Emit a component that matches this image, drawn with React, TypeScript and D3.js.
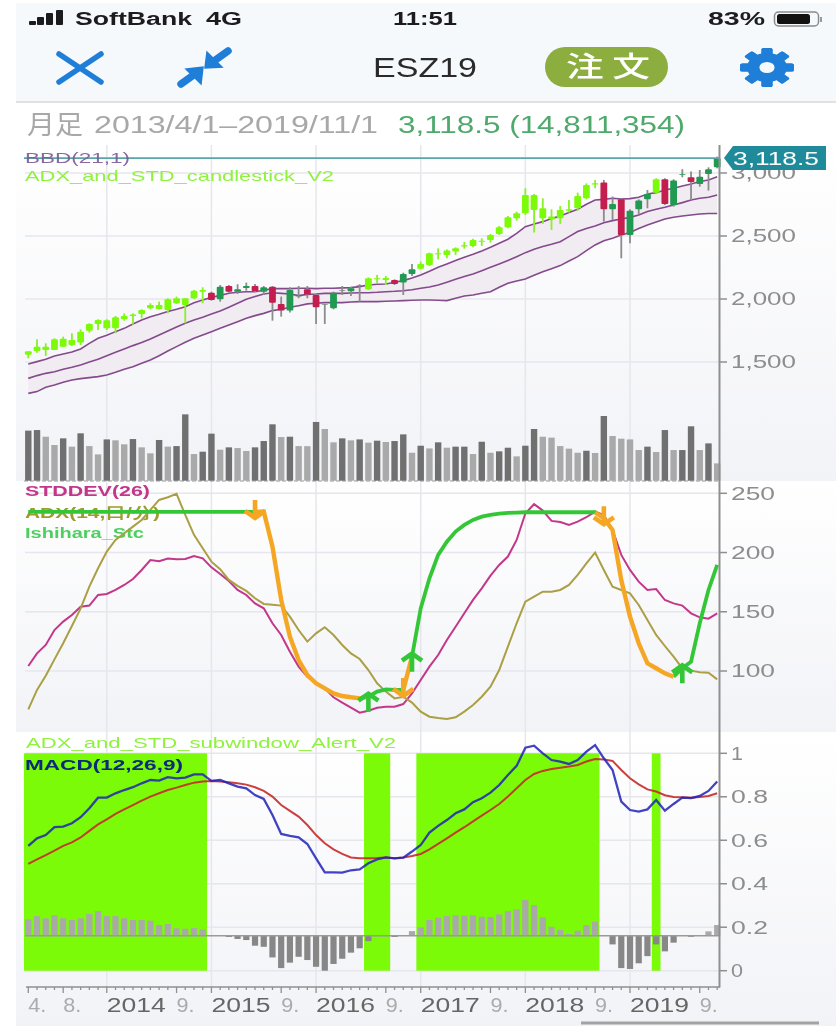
import * as React from "react";
import * as d3 from "d3";

const bodyTop = [1585,1622,1622,1680,1685,1675,1741,1802,1834,1831,1855,1865,1876,1913,1953,1953,1998,2006,2006,2066,2072,2050,2098,2103,2077,2103,2103,2093,2098,1961,2072,2024,2077,2032,1958,2050,2072,2085,2111,2164,2164,2167,2151,2199,2236,2278,2363,2363,2384,2402,2426,2469,2463,2508,2569,2648,2680,2826,2826,2720,2654,2707,2712,2818,2905,2918,2924,2754,2791,2701,2781,2834,2950,2950,2940,2992,2966,2971,3030,3117];
const bodyBottom = [1558,1587,1595,1595,1622,1635,1654,1749,1802,1767,1767,1839,1865,1881,1926,1921,1913,1966,1953,2006,2058,1992,1998,2058,2058,2088,2064,2058,1971,1908,1908,2019,2035,1934,1953,1926,2066,2061,2106,2077,2156,2151,2119,2130,2199,2241,2270,2355,2350,2376,2416,2421,2455,2469,2516,2569,2641,2680,2707,2641,2633,2641,2701,2720,2799,2908,2712,2712,2508,2508,2712,2791,2844,2754,2746,2987,2929,2913,2992,3045];
const highs = [1585,1680,1648,1688,1701,1728,1759,1807,1839,1839,1865,1886,1886,1918,1966,1979,2006,2019,2006,2072,2093,2058,2111,2111,2117,2130,2119,2103,2103,2019,2093,2103,2103,2040,1961,2058,2103,2098,2117,2172,2191,2183,2156,2209,2278,2297,2368,2402,2394,2410,2453,2479,2482,2516,2580,2659,2693,2879,2834,2799,2712,2738,2786,2844,2918,2945,2945,2813,2799,2712,2791,2865,2958,2958,2950,3030,3011,3024,3045,3130];
const lows = [1529,1574,1548,1595,1622,1627,1635,1733,1754,1754,1728,1828,1796,1847,1918,1918,1886,1961,1807,2000,1966,1987,1979,2050,2040,2066,2056,2032,1828,1860,1892,2006,2006,1802,1802,1918,2032,2024,1979,2072,2125,2111,2111,2032,2183,2236,2262,2315,2323,2350,2400,2410,2421,2447,2508,2561,2622,2667,2527,2596,2548,2596,2686,2701,2791,2879,2614,2627,2323,2442,2675,2720,2839,2746,2733,2966,2786,2892,2860,3037];
const crimsonMonths = [21,23,26,28,29,32,33,42,66,68,73,76];
const dojiMonths = [31,34,36,38];

const bandUpper = [1484,1503,1521,1548,1564,1580,1603,1648,1688,1712,1741,1767,1802,1834,1860,1879,1900,1918,1939,1971,1992,2013,2029,2045,2053,2058,2058,2069,2082,2082,2082,2085,2085,2082,2085,2085,2088,2090,2098,2111,2117,2119,2133,2146,2167,2191,2220,2252,2278,2305,2331,2355,2381,2410,2442,2474,2521,2574,2596,2614,2638,2659,2686,2712,2752,2786,2791,2799,2794,2797,2807,2834,2844,2865,2879,2897,2913,2932,2945,2971];
const bandMiddle = [1370,1392,1410,1423,1442,1458,1476,1500,1521,1550,1577,1603,1630,1654,1683,1715,1746,1778,1807,1834,1855,1881,1905,1934,1966,1998,2019,2040,2050,2045,2040,2027,2037,2040,2045,2045,2045,2048,2050,2050,2053,2058,2061,2066,2074,2085,2095,2111,2133,2156,2178,2199,2225,2252,2278,2305,2336,2368,2394,2416,2434,2455,2495,2535,2559,2580,2606,2622,2635,2648,2667,2694,2712,2728,2746,2765,2786,2799,2807,2826];
const bandLower = [1251,1265,1299,1318,1339,1357,1368,1376,1384,1397,1418,1442,1463,1490,1516,1550,1587,1622,1656,1688,1715,1741,1767,1794,1820,1847,1868,1886,1908,1918,1934,1947,1961,1966,1971,1971,1971,1976,1979,1979,1979,1982,1984,1987,1990,1992,1992,1990,1987,2006,2024,2032,2045,2058,2093,2125,2143,2159,2188,2217,2241,2265,2302,2336,2384,2429,2463,2482,2508,2527,2559,2588,2611,2635,2649,2659,2667,2675,2678,2678];

// volume in millions, last bar is the 14,811,354 of the title
const volumes = [42.8,43.3,37.6,30.5,36.2,29.1,40.5,29.6,22.5,35.3,34.5,31.1,35.6,28.5,23.4,34.8,29.1,29.6,56.7,22.8,24.8,40.2,26.5,28.5,27.9,25.4,28.5,33.9,48.2,37.3,37.6,29.6,29.5,50.2,44.2,32.8,36.2,34.5,35.3,32.5,34.2,33.1,33.9,39.6,23.9,29.9,27.6,32.8,28.2,29.1,29.1,22.8,33.3,23.9,25.1,28.2,20.8,29.9,44.2,37.6,36.8,29.6,27.4,23.9,25.6,23.7,55.3,38.2,35.9,35.3,26.2,29.1,24.5,43.3,26.2,26.2,46.5,26.2,31.9,14.8];

const stddev = [104.2,114.9,122,134.6,141.7,147.3,154.3,155.2,164.2,165,168.4,172.6,177.7,185.3,193.7,192.6,194.9,194.3,194.6,197.1,195.1,187.5,181.9,176,168.4,164.2,157.1,152.9,140.3,130.4,116.3,103.7,95.2,89.6,85.4,77.8,73.3,69,64.8,66.5,69,69.9,69.9,72.1,81.1,92.4,103.7,113.5,126.2,137.4,148.7,160,169.8,180.5,189.5,196.6,210.6,233,240.8,235.4,226.7,225.8,223.3,226.1,229.8,234.6,231.7,219,198,185.3,175.4,168.4,169.2,159.9,157.1,155.2,148.7,145.3,144.2,148.7];
const adx = [67.6,84,96,109.8,123.4,138,152.9,171.2,186.7,200.8,210.6,216.3,221.9,227.5,236,244.4,246.7,249.5,231.7,214.9,203.6,192.3,185.9,176.9,171.8,167.6,161.4,156.6,156,155.2,145.9,134.6,124.8,131.8,136.9,130.4,122,114.9,110.1,100.8,89.6,82.6,76.9,78.3,73.3,65.7,61.4,60.3,59.5,60.9,65.7,71.3,78.3,86.8,100.8,120.5,140.3,158.6,162.8,167,167,168.4,172.6,181.1,190.9,199.9,185.3,171.2,168.4,165.6,155.7,143,130.4,121.1,112.1,102.3,100.3,98.9,98.6,92.9];
const stc = [234.3,234.3,234.3,234.3,234.3,234.3,234.3,234.3,234.3,234.3,234.3,234.3,234.3,234.3,234.3,234.3,234.3,234.3,234.3,234.3,234.3,234.3,234.3,234.3,234.3,234.3,234.3,234.6,205,160,129,109.3,96.6,89.6,85.4,81.1,78.9,77.8,76.9,78.3,82.6,84.5,84,84,112.1,152.9,178.3,198,209.2,217.7,223.3,227.5,230.3,231.7,232.9,233.4,233.7,234,234,234,234,234,234,234,234,234,228.9,219,176.8,145.9,123.4,106.5,102.3,98,95.2,102.3,107.9,140.3,168.4,189.5];
const stcFalling = [[26,39],[43,44],[65,74]];
const stcRising = [[0,26],[39,43],[44,66],[74,79]];
const stcUpArrows = [39,44,75];
const stcDownArrows = [26,43,66];

const macd = [.574,.609,.624,.660,.663,.678,.706,.747,.796,.796,.816,.831,.844,.862,.877,.874,.890,.885,.888,.903,.903,.873,.877,.862,.847,.839,.808,.790,.716,.629,.620,.613,.583,.517,.452,.452,.451,.462,.466,.494,.512,.521,.517,.520,.548,.578,.635,.666,.693,.724,.742,.775,.793,.819,.854,.900,.942,1.026,1.035,1,.969,.962,.951,.969,1.008,1.038,.977,.923,.778,.739,.732,.742,.785,.736,.767,.796,.794,.804,.827,.870];
const signal = [.491,.512,.532,.552,.574,.590,.613,.643,.673,.696,.721,.742,.762,.782,.801,.816,.831,.842,.854,.865,.870,.873,.870,.867,.862,.856,.844,.827,.801,.762,.735,.709,.670,.624,.586,.558,.537,.521,.517,.517,.518,.521,.517,.521,.528,.537,.558,.583,.609,.635,.660,.687,.713,.739,.767,.801,.839,.877,.905,.919,.928,.934,.939,.946,.962,.974,.972,.965,.923,.885,.857,.834,.824,.807,.799,.798,.796,.799,.804,.816];
const histogram = [.075,.090,.080,.094,.080,.072,.080,.100,.113,.090,.090,.080,.072,.072,.069,.049,.054,.034,.032,.035,.029,.003,0,-.006,-.015,-.020,-.046,-.051,-.100,-.149,-.124,-.097,-.112,-.143,-.161,-.130,-.106,-.078,-.058,-.025,-.002,-.002,-.006,.003,.021,.038,.072,.083,.090,.094,.092,.094,.087,.086,.098,.113,.121,.164,.141,.084,.041,.026,.008,.023,.049,.064,0,-.040,-.149,-.153,-.127,-.094,-.040,-.072,-.032,0,-.005,0,.020,.049];
const histogramBase = 0.161;
const alertRanges = [[0,20],[39,41],[45,65],[72,72]];

const priceTicks = [3000,2500,2000,1500];
const stdTicks = [250,200,150,100];
const macdTicks = [1,.8,.6,.4,.2,0];
const lastPrice = 3118.5;
const yearStarts = [9,21,33,45,57,69];
const timeLabels = [
  [0,"4."],[4,"8."],[9,"2014"],[17,"9."],[21,"2015"],[29,"9."],[33,"2016"],[41,"9."],[45,"2017"],
  [53,"9."],[57,"2018"],[65,"9."],[69,"2019"],[77,"9."],
];

const LIME = "#7cfb08";
const FONT = "'Liberation Sans', Arial, sans-serif";
const CJK = "'Noto Sans CJK JP', sans-serif";

function drawChart(svgRef) {
  const svg = d3.select(svgRef.current);
  svg.selectAll("*").remove();

  const months = d3.range(80);
  const x = d3.scaleLinear().domain([0, 79]).range([28.3, 717.2]);
  const step = x(1) - x(0);
  const yPrice = d3.scaleLinear().domain([1500, 3000]).range([362, 173]);
  const yVolume = d3.scaleLinear().domain([0, 60]).range([480.7, 410.5]);
  const yStd = d3.scaleLinear().domain([100, 250]).range([671, 493.3]);
  const yMacd = d3.scaleLinear().domain([0, 1]).range([970.7, 753.3]);

  const text = (g, tx, ty, s, size, fill, width, opts: any = {}) => {
    const t = g.append("text")
      .attr("x", tx).attr("y", ty + size * 0.36)
      .attr("font-size", size).attr("fill", fill)
      .attr("font-family", opts.family || FONT)
      .attr("font-weight", opts.weight || 400)
      .text(s);
    if (width) t.attr("textLength", width).attr("lengthAdjust", "spacingAndGlyphs");
    return t;
  };

  const defs = svg.append("defs");
  const grad = defs.append("linearGradient").attr("id", "panelBg").attr("x1", 0).attr("x2", 0).attr("y1", 0).attr("y2", 1);
  grad.append("stop").attr("offset", "0%").attr("stop-color", "#ffffff");
  grad.append("stop").attr("offset", "100%").attr("stop-color", "#f2f3f7");

  svg.append("rect").attr("width", 836).attr("height", 1026).attr("fill", "#fff");

  // phone header
  const head = svg.append("g");
  head.append("rect").attr("x", 16).attr("y", 3).attr("width", 820).attr("height", 98).attr("fill", "#f6f9fb");
  head.append("rect").attr("x", 16).attr("y", 101).attr("width", 820).attr("height", 2).attr("fill", "#dfe1e3");
  [[29,21,4],[37,17,8],[46,13,12],[56,10,15]].forEach(([bx, by, bh]) => {
    head.append("rect").attr("x", bx).attr("y", by).attr("width", 7).attr("height", bh).attr("rx", 1).attr("fill", "#1c1c1e");
  });
  text(head, 75, 19, "SoftBank", 18, "#1c1c1e", 117, { weight: 700 });
  text(head, 206, 19, "4G", 18, "#1c1c1e", 36, { weight: 700 });
  text(head, 393, 19, "11:51", 18, "#1c1c1e", 64, { weight: 700 });
  text(head, 708, 19, "83%", 18, "#1c1c1e", 57, { weight: 700 });
  head.append("rect").attr("x", 774.5).attr("y", 12).attr("width", 44).attr("height", 14).attr("rx", 4).attr("fill", "none").attr("stroke", "#8a8a8a").attr("stroke-width", 1.5);
  head.append("rect").attr("x", 777).attr("y", 14).attr("width", 33).attr("height", 10).attr("rx", 2.5).attr("fill", "#111");
  head.append("rect").attr("x", 820).attr("y", 17).attr("width", 2).attr("height", 5).attr("fill", "#999");

  const blue = "#1f7ed8";
  head.append("path").attr("d", "M59,54L101,82M101,54L59,82").attr("stroke", blue).attr("stroke-width", 5.5).attr("stroke-linecap", "round").attr("fill", "none");
  head.append("path").attr("d", "M228,51L214,61M181,84L195,74").attr("stroke", blue).attr("stroke-width", 7.5).attr("stroke-linecap", "round").attr("fill", "none");
  head.append("path").attr("d", "M205,68L207,52L222,67ZM203,67L201,84L186,69Z").attr("fill", blue).attr("stroke", blue).attr("stroke-width", 1.5);
  text(head, 373, 67, "ESZ19", 27, "#2a2a2a", 104);
  head.append("rect").attr("x", 545).attr("y", 47).attr("width", 123).attr("height", 40).attr("rx", 20).attr("fill", "#8bae3f");
  text(head, 566, 67, "注 文", 28, "#fff", 84, { family: CJK, weight: 500 });
  const gear = head.append("g").attr("transform", "translate(767,67.5) scale(1.38,1)");
  d3.range(8).forEach((k) => {
    gear.append("rect").attr("x", -4).attr("y", -19.5).attr("width", 8).attr("height", 39).attr("rx", 1.5)
      .attr("fill", blue).attr("transform", `rotate(${k * 22.5 * 2})`);
  });
  gear.append("circle").attr("r", 14.5).attr("fill", blue);
  gear.append("circle").attr("r", 5.5).attr("fill", "#f6f9fb");

  text(head, 27, 125, "月足", 26, "#a8a8a8", 56, { family: CJK });
  text(head, 94, 125, "2013/4/1–2019/11/1", 23, "#a8a8a8", 284);
  text(head, 398, 125, "3,118.5 (14,811,354)", 23, "#4fa96c", 287);

  // panel backgrounds
  [[145, 336], [481, 251], [733, 293]].forEach(([py, ph]) => {
    svg.append("rect").attr("x", 16).attr("y", py).attr("width", 820).attr("height", ph).attr("fill", "url(#panelBg)");
  });

  // grid
  const grid = svg.append("g").attr("stroke", "#e6e6ec").attr("stroke-width", 1.5);
  yearStarts.forEach((m) => {
    grid.append("line").attr("x1", x(m)).attr("x2", x(m)).attr("y1", 145).attr("y2", 987);
  });
  const hLines = [...priceTicks.map((d) => yPrice(d)), ...stdTicks.map((d) => yStd(d)), ...macdTicks.map((d) => yMacd(d))];
  hLines.forEach((hy) => {
    grid.append("line").attr("x1", 25).attr("x2", 719).attr("y1", hy).attr("y2", hy);
  });
  svg.append("line").attr("x1", 24).attr("x2", 719).attr("y1", 481).attr("y2", 481)
    .attr("stroke", "#9a9a9a").attr("stroke-width", 1).attr("stroke-dasharray", "4 2");

  // bollinger band
  const top = svg.append("g");
  top.append("path")
    .attr("d", d3.area<number>().x((i) => x(i)).y0((i) => yPrice(bandLower[i])).y1((i) => yPrice(bandUpper[i]))(months))
    .attr("fill", "#f1ebf2");
  [bandUpper, bandMiddle, bandLower].forEach((series) => {
    top.append("path")
      .attr("d", d3.line<number>().x((i) => x(i)).y((i) => yPrice(series[i]))(months))
      .attr("fill", "none").attr("stroke", "#834a8c").attr("stroke-width", 1.6);
  });

  const isAlert = (i) => alertRanges.some(([a, b]) => i >= a && i <= b);
  const candleFill = (i) => {
    if (isAlert(i)) return LIME;
    if (crimsonMonths.includes(i)) return "#c41e4e";
    if (dojiMonths.includes(i)) return "#7d8a80";
    return "#1f9a50";
  };

  top.selectAll(".wick").data(months).enter().append("line")
    .attr("x1", (i) => x(i)).attr("x2", (i) => x(i))
    .attr("y1", (i) => yPrice(highs[i])).attr("y2", (i) => yPrice(lows[i]))
    .attr("stroke", (i) => (isAlert(i) ? "#8af02a" : "#8c8c8c")).attr("stroke-width", 1.8);
  top.selectAll(".body").data(months).enter().append("rect")
    .attr("x", (i) => x(i) - 3.4).attr("width", 6.8)
    .attr("y", (i) => yPrice(bodyTop[i]))
    .attr("height", (i) => yPrice(bodyBottom[i]) - yPrice(bodyTop[i]))
    .attr("rx", 1).attr("fill", candleFill);

  top.selectAll(".vol").data(months).enter().append("rect")
    .attr("x", (i) => x(i) - 3.2).attr("width", 6.4)
    .attr("y", (i) => yVolume(volumes[i]))
    .attr("height", (i) => yVolume(0) - yVolume(volumes[i]))
    .attr("fill", (i) => (i === 0 || volumes[i] >= volumes[i - 1] ? "#707070" : "#a9a9a9"));

  // last price line and legends
  top.append("line").attr("x1", 24).attr("x2", 719).attr("y1", yPrice(lastPrice)).attr("y2", yPrice(lastPrice))
    .attr("stroke", "#5aa5a8").attr("stroke-width", 1.8);
  text(top, 25, 158, "BBD(21,1)", 15, "#7a5a96", 105).attr("opacity", 0.9);
  text(top, 25, 176, "ADX_and_STD_candlestick_V2", 15, "#8ff23e", 309);

  // stddev / adx / stc
  const mid = svg.append("g");
  const lineStd = d3.line<number>().x((i) => x(i)).y((i) => yStd(stddev[i]));
  const lineAdx = d3.line<number>().x((i) => x(i)).y((i) => yStd(adx[i]));
  const lineStc = d3.line<number>().x((i) => x(i)).y((i) => yStd(stc[i]));
  text(mid, 25, 491, "STDDEV(26)", 15, "#c2378a", 125, { weight: 700 });
  text(mid, 25, 513, "ADX(14,日/分)", 15, "#a09a2c", 135, { weight: 700 });
  text(mid, 25, 533, "Ishihara_Stc", 15, "#4fcf5f", 119, { weight: 700 });
  mid.append("path").attr("d", lineStd(months)).attr("fill", "none").attr("stroke", "#c2378a").attr("stroke-width", 2);
  mid.append("path").attr("d", lineAdx(months)).attr("fill", "none").attr("stroke", "#ab9f45").attr("stroke-width", 2);
  stcRising.forEach(([a, b]) => {
    mid.append("path").attr("d", lineStc(d3.range(a, b + 1))).attr("fill", "none").attr("stroke", "#33c737").attr("stroke-width", 3.8);
  });
  stcFalling.forEach(([a, b]) => {
    mid.append("path").attr("d", lineStc(d3.range(a, b + 1))).attr("fill", "none").attr("stroke", "#f5a623").attr("stroke-width", 4.4);
  });
  stcUpArrows.forEach((i) => {
    const ax = x(i), ay = yStd(stc[i]) - 3;
    mid.append("path").attr("d", `M${ax},${ay + 18}V${ay}M${ax - 10},${ay + 7}L${ax},${ay}L${ax + 10},${ay + 7}`)
      .attr("fill", "none").attr("stroke", "#33c737").attr("stroke-width", 4.6);
  });
  stcDownArrows.forEach((i) => {
    const ax = x(i), ay = yStd(stc[i]) + 6;
    mid.append("path").attr("d", `M${ax},${ay - 18}V${ay}M${ax - 10},${ay - 7}L${ax},${ay}L${ax + 10},${ay - 7}`)
      .attr("fill", "none").attr("stroke", "#f5a623").attr("stroke-width", 4.6);
  });

  // macd panel
  const low = svg.append("g");
  alertRanges.forEach(([a, b]) => {
    low.append("rect").attr("x", x(a) - step / 2).attr("width", x(b) - x(a) + step)
      .attr("y", yMacd(1)).attr("height", yMacd(0) - yMacd(1)).attr("fill", LIME);
  });
  low.selectAll(".hist").data(months).enter().append("rect")
    .attr("x", (i) => x(i) - 3.1).attr("width", 6.2)
    .attr("y", (i) => yMacd(histogramBase + Math.max(histogram[i], 0)))
    .attr("height", (i) => Math.abs(yMacd(histogramBase + histogram[i]) - yMacd(histogramBase)))
    .attr("fill", (i) => (histogram[i] >= 0 ? "#a9a9a9" : "#878787"));
  low.append("line").attr("x1", 25).attr("x2", 719).attr("y1", yMacd(histogramBase)).attr("y2", yMacd(histogramBase))
    .attr("stroke", "#9a9a9a").attr("stroke-width", 1.6);
  low.append("path").attr("d", d3.line<number>().x((i) => x(i)).y((i) => yMacd(signal[i]))(months))
    .attr("fill", "none").attr("stroke", "#c62a2a").attr("stroke-width", 2).attr("opacity", 0.9);
  low.append("path").attr("d", d3.line<number>().x((i) => x(i)).y((i) => yMacd(macd[i]))(months))
    .attr("fill", "none").attr("stroke", "#2022b8").attr("stroke-width", 2.3).attr("opacity", 0.85);
  text(low, 26, 743, "ADX_and_STD_subwindow_Alert_V2", 15, "#8ff23e", 370);
  text(low, 25, 764, "MACD(12,26,9)", 15.5, "#0c2a7a", 158, { weight: 700 });

  // axes
  const axis = svg.append("g");
  const axisColor = "#8f8f8f";
  axis.append("line").attr("x1", 719.5).attr("x2", 719.5).attr("y1", 145).attr("y2", 987.5).attr("stroke", axisColor).attr("stroke-width", 2);
  axis.append("line").attr("x1", 26).attr("x2", 720).attr("y1", 987).attr("y2", 987).attr("stroke", axisColor).attr("stroke-width", 1.6);
  months.forEach((i) => {
    const major = timeLabels.some(([m]) => m === i);
    axis.append("line").attr("x1", x(i)).attr("x2", x(i)).attr("y1", 987).attr("y2", major ? 993 : 990).attr("stroke", axisColor).attr("stroke-width", 1.3);
  });
  timeLabels.forEach(([m, s]) => {
    const isYear = String(s).length > 2;
    text(axis, x(m as number), 1005, s, 20, isYear ? "#666" : "#ababab", isYear ? 59 : 18);
  });
  const yTick = (ty, label, width) => {
    axis.append("line").attr("x1", 720).attr("x2", 727).attr("y1", ty).attr("y2", ty).attr("stroke", axisColor).attr("stroke-width", 1.5);
    text(axis, 731, ty, label, 18, "#8d8d8d", width);
  };
  priceTicks.forEach((d) => yTick(yPrice(d), d3.format(",")(d), 65));
  stdTicks.forEach((d) => yTick(yStd(d), String(d), 44));
  macdTicks.forEach((d) => yTick(yMacd(d), String(d), d === 0 || d === 1 ? 12 : 37));

  // last price tag
  const tagY = yPrice(lastPrice);
  axis.append("path").attr("d", `M724,${tagY}L733,${tagY - 12}H826V${tagY + 12}H733Z`).attr("fill", "#1f8a99");
  text(axis, 733, tagY, "3,118.5", 18, "#fff", 86);

  // scroll bar
  svg.append("rect").attr("x", 581).attr("y", 1021.5).attr("width", 238).attr("height", 3).attr("fill", "#a2a2a2");
}

const App = () => {
  const svgRef = React.useRef(null);

  React.useEffect(() => {
    drawChart(svgRef);
  }, []);

  return (
    <svg ref={svgRef} width={836} height={1026} style={{ position: "absolute", left: 0, top: 0, display: "block", filter: "blur(0.5px)" }} />
  );
};

export default App;
